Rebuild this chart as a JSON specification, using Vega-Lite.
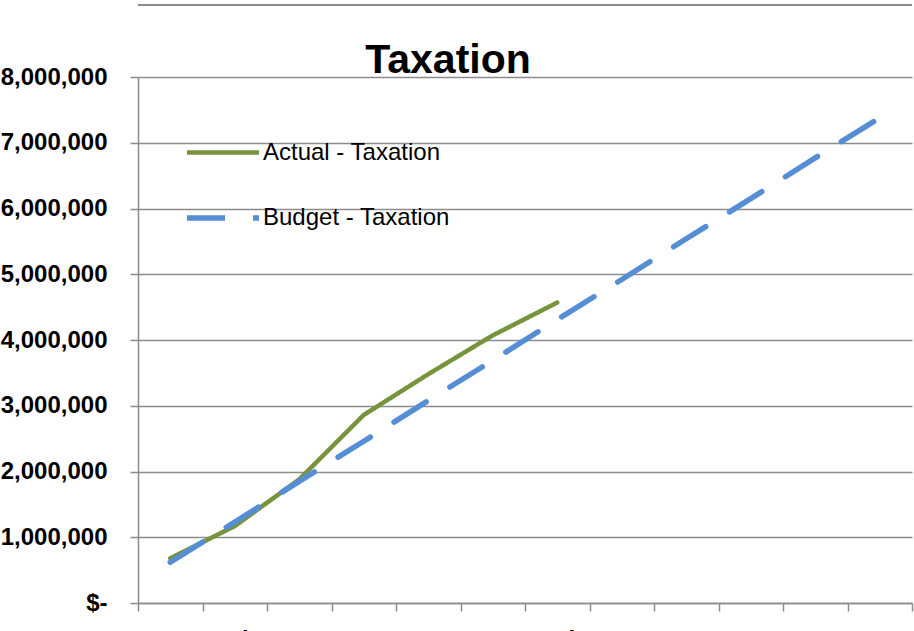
{
  "$schema": "https://vega.github.io/schema/vega-lite/v6.json",
  "width": 774,
  "height": 526,
  "autosize": {"type": "none"},
  "padding": {"left": 138, "top": 77, "right": 2, "bottom": 28},
  "background": "white",
  "title": {
    "text": "Taxation",
    "font": "Liberation Sans",
    "fontSize": 41,
    "fontWeight": "bold",
    "color": "black",
    "anchor": "middle",
    "baseline": "alphabetic",
    "offset": -109,
    "dx": -77
  },
  "config": {
    "view": {"stroke": null},
    "font": "Liberation Sans"
  },
  "data": {
    "values": [
      {"month": "Jan", "series": "Actual - Taxation", "value": 680000},
      {"month": "Feb", "series": "Actual - Taxation", "value": 1170000},
      {"month": "Mar", "series": "Actual - Taxation", "value": 1880000},
      {"month": "Apr", "series": "Actual - Taxation", "value": 2860000},
      {"month": "May", "series": "Actual - Taxation", "value": 3480000},
      {"month": "Jun", "series": "Actual - Taxation", "value": 4070000},
      {"month": "Jul", "series": "Actual - Taxation", "value": 4570000},
      {"month": "Jan", "series": "Budget - Taxation", "value": 620000},
      {"month": "Feb", "series": "Budget - Taxation", "value": 1230000},
      {"month": "Mar", "series": "Budget - Taxation", "value": 1850000},
      {"month": "Apr", "series": "Budget - Taxation", "value": 2460000},
      {"month": "May", "series": "Budget - Taxation", "value": 3080000},
      {"month": "Jun", "series": "Budget - Taxation", "value": 3690000},
      {"month": "Jul", "series": "Budget - Taxation", "value": 4310000},
      {"month": "Aug", "series": "Budget - Taxation", "value": 4920000},
      {"month": "Sep", "series": "Budget - Taxation", "value": 5540000},
      {"month": "Oct", "series": "Budget - Taxation", "value": 6150000},
      {"month": "Nov", "series": "Budget - Taxation", "value": 6770000},
      {"month": "Dec", "series": "Budget - Taxation", "value": 7380000}
    ]
  },
  "layer": [
    {
      "mark": {"type": "rule", "color": "#8c8c8c", "strokeWidth": 1.5, "clip": false},
      "encoding": {"y": {"datum": 9090000, "type": "quantitative"}}
    },
    {
      "mark": {"type": "line", "strokeCap": "round", "strokeJoin": "round"},
      "encoding": {
        "x": {
          "field": "month",
          "type": "ordinal",
          "sort": ["Jan", "Feb", "Mar", "Apr", "May", "Jun", "Jul", "Aug", "Sep", "Oct", "Nov", "Dec"],
          "scale": {"type": "band", "paddingInner": 0, "paddingOuter": 0, "domain": ["Jan", "Feb", "Mar", "Apr", "May", "Jun", "Jul", "Aug", "Sep", "Oct", "Nov", "Dec"]},
          "axis": {
            "title": null,
            "tickBand": "extent",
            "grid": false,
            "domainColor": "#8c8c8c",
            "domainWidth": 1.5,
            "tickColor": "#8c8c8c",
            "tickWidth": 1.5,
            "tickSize": 8,
            "labelAngle": 0,
            "labelFont": "Liberation Sans",
            "labelFontSize": 24,
            "labelFontWeight": "bold",
            "labelColor": "black",
            "labelPadding": 17
          }
        },
        "y": {
          "field": "value",
          "type": "quantitative",
          "scale": {"domain": [0, 8000000], "nice": false},
          "axis": {
            "title": null,
            "values": [0, 1000000, 2000000, 3000000, 4000000, 5000000, 6000000, 7000000, 8000000],
            "labelExpr": "datum.value == 0 ? '$-' : format(datum.value, ',')",
            "grid": true,
            "gridColor": "#8c8c8c",
            "gridWidth": 1.5,
            "domainColor": "#8c8c8c",
            "domainWidth": 1.5,
            "tickColor": "#8c8c8c",
            "tickWidth": 1.5,
            "tickSize": 8,
            "labelFont": "Liberation Sans",
            "labelFontSize": 24,
            "labelFontWeight": "bold",
            "labelColor": "black",
            "labelPadding": 23
          }
        },
        "color": {
          "field": "series",
          "type": "nominal",
          "scale": {"domain": ["Actual - Taxation", "Budget - Taxation"], "range": ["#77933C", "#558ED5"]},
          "legend": {
            "title": null,
            "orient": "none",
            "legendX": 46,
            "legendY": 37,
            "padding": 0,
            "symbolType": "stroke",
            "symbolSize": 5184,
            "symbolStrokeWidth": 5,
            "labelFont": "Liberation Sans",
            "labelFontSize": 24,
            "labelColor": "black",
            "labelOffset": 1,
            "rowPadding": 14,
            "labelLimit": 400
          }
        },
        "strokeDash": {
          "field": "series",
          "type": "nominal",
          "scale": {"domain": ["Actual - Taxation", "Budget - Taxation"], "range": [[1, 0], [38, 28]]}
        },
        "strokeWidth": {
          "field": "series",
          "type": "nominal",
          "scale": {"domain": ["Actual - Taxation", "Budget - Taxation"], "range": [4.5, 5.5]},
          "legend": null
        }
      }
    }
  ]
}
